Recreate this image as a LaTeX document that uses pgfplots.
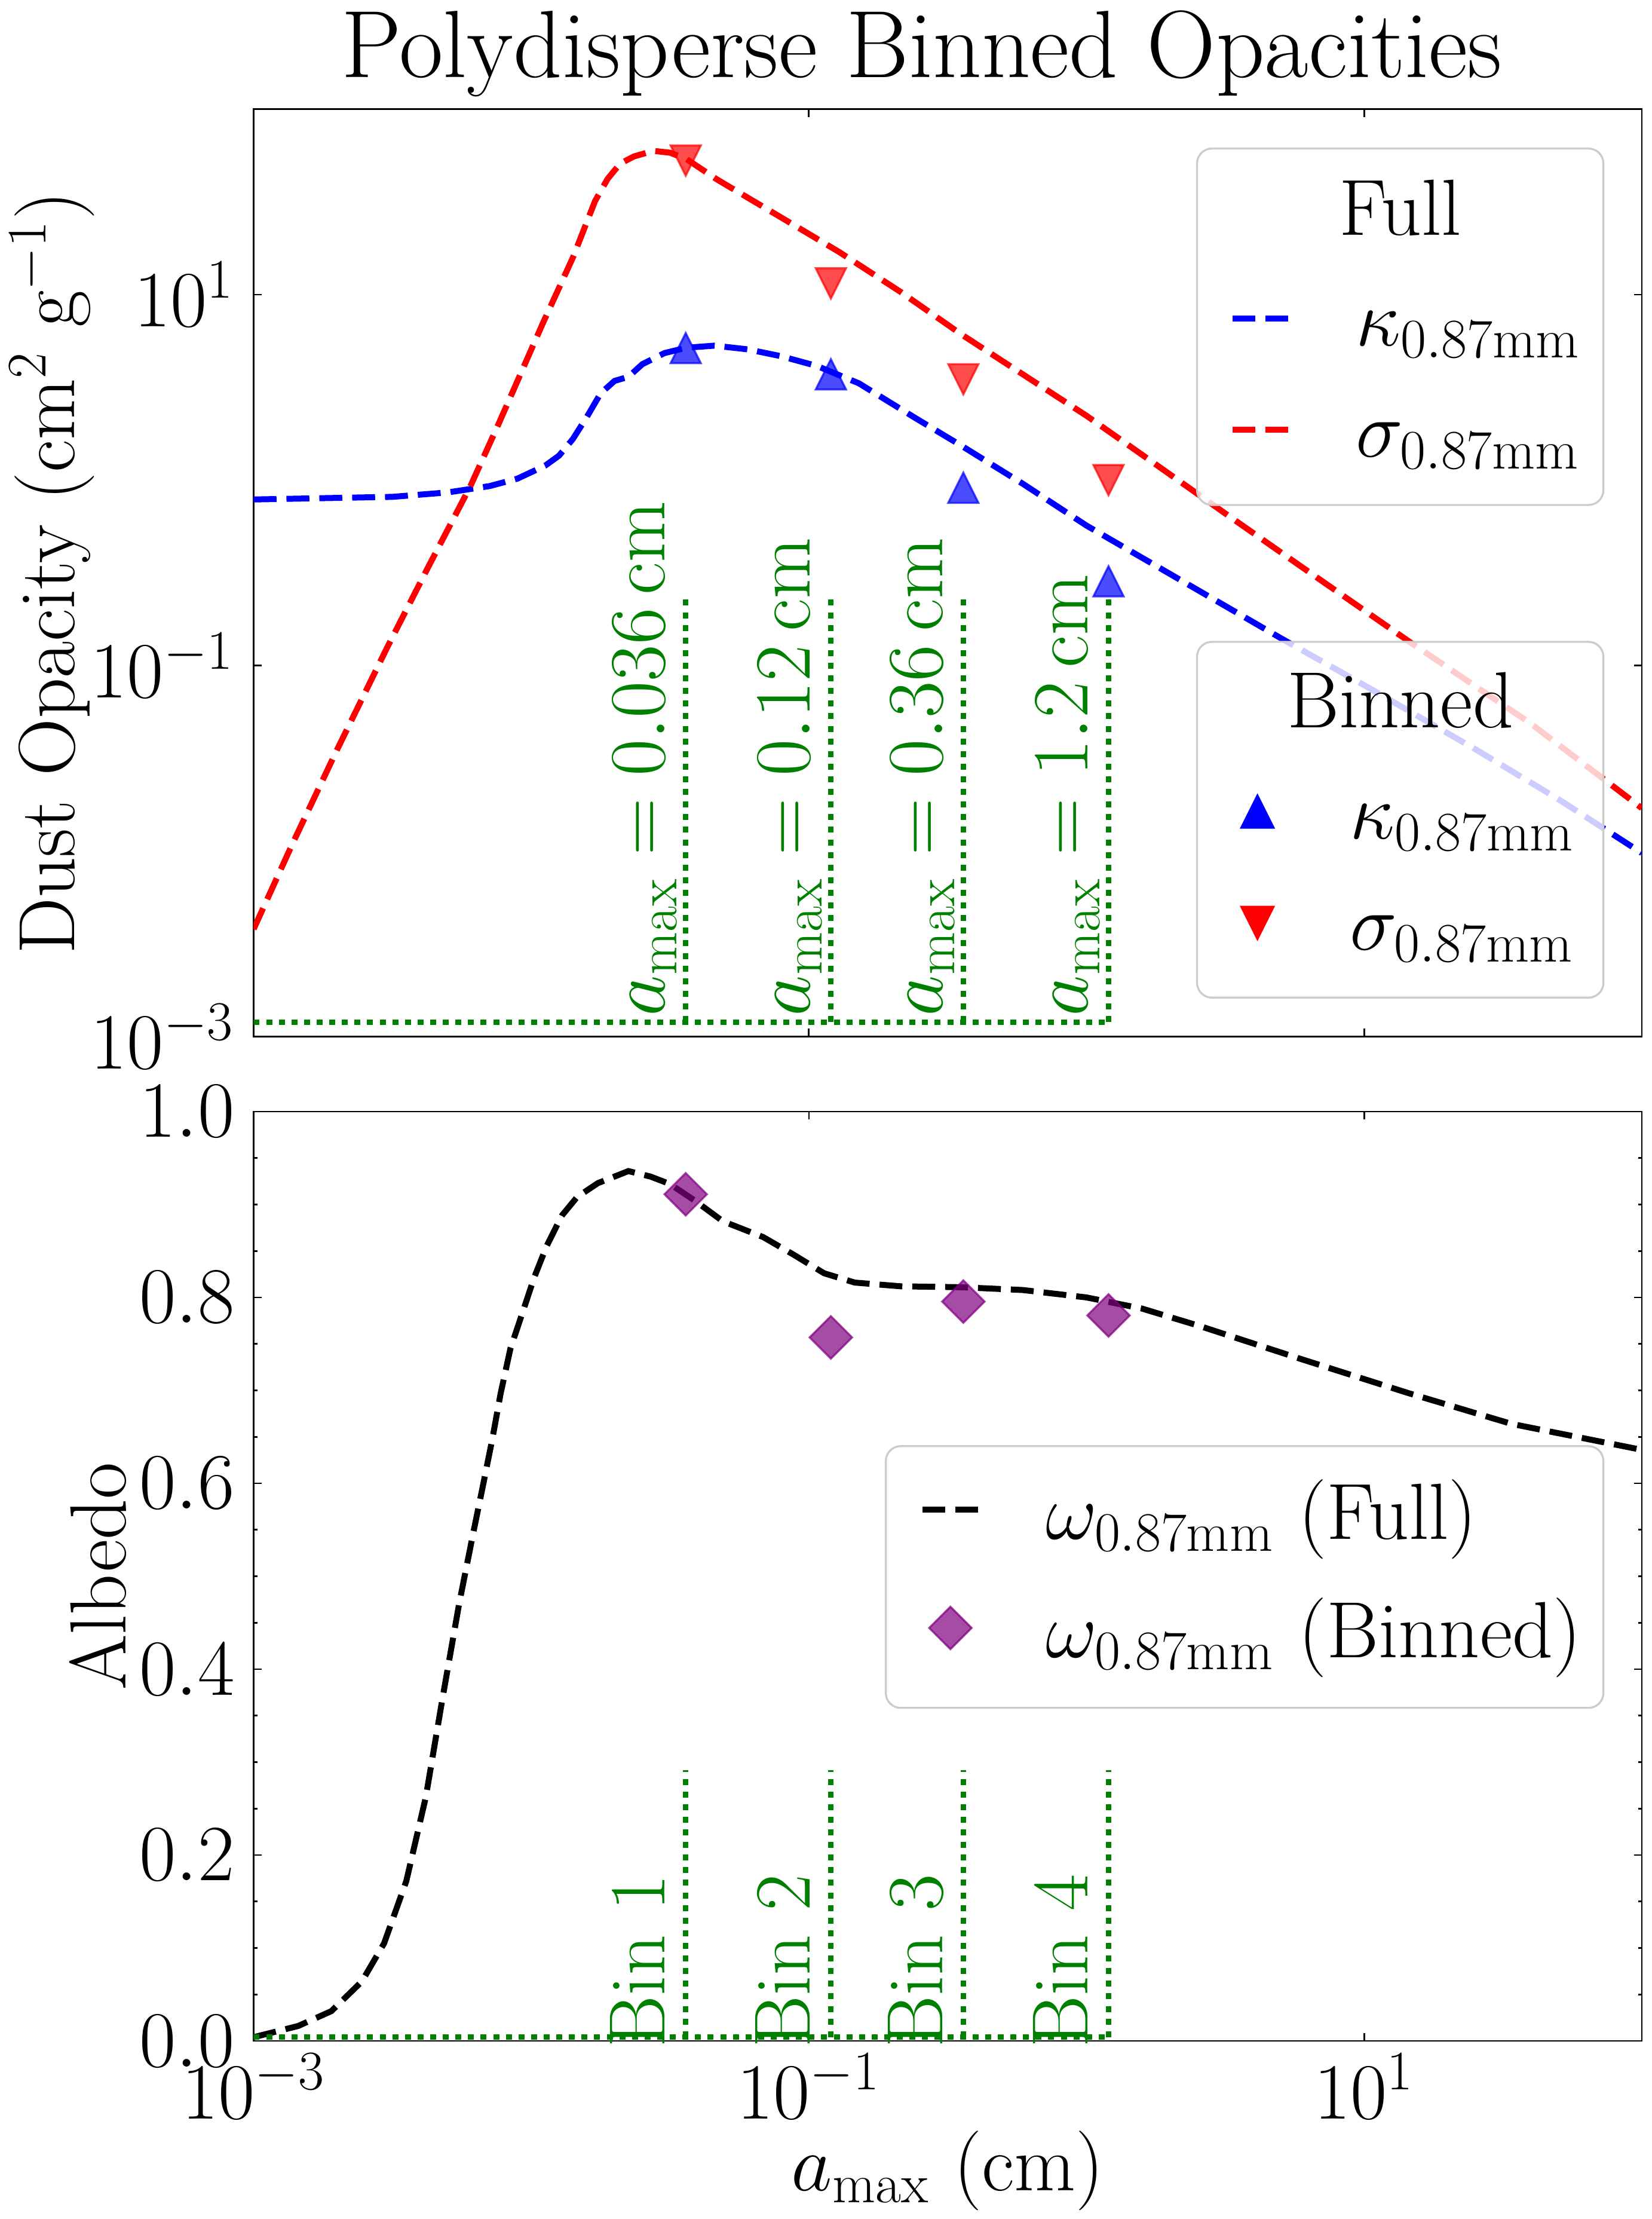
\RequirePackage{fix-cm}
\documentclass[border=0pt]{standalone}
\usepackage{pgfplots}
\pgfplotsset{compat=1.18}

% upright math (digits, \mathrm) from Latin Modern, with its optical sizes
\DeclareSymbolFont{operators}{TU}{lmr}{m}{n}

\definecolor{mplgreen}{RGB}{0,128,0}
\definecolor{mplpurple}{RGB}{128,0,128}
\definecolor{frameedge}{gray}{0.8}

\newcommand{\mplfont}{\fontsize{24bp}{28bp}\selectfont}
\newcommand{\titlefont}{\fontsize{28.8bp}{34bp}\selectfont}

% triangles as wide as they are tall, centred at mid-height
\pgfdeclareplotmark{mtriup}{%
  \pgfpathmoveto{\pgfqpoint{0pt}{\pgfplotmarksize}}%
  \pgfpathlineto{\pgfqpoint{-\pgfplotmarksize}{-\pgfplotmarksize}}%
  \pgfpathlineto{\pgfqpoint{\pgfplotmarksize}{-\pgfplotmarksize}}%
  \pgfpathclose\pgfusepathqfillstroke}
\pgfdeclareplotmark{mtridown}{%
  \pgfpathmoveto{\pgfqpoint{0pt}{-\pgfplotmarksize}}%
  \pgfpathlineto{\pgfqpoint{-\pgfplotmarksize}{\pgfplotmarksize}}%
  \pgfpathlineto{\pgfqpoint{\pgfplotmarksize}{\pgfplotmarksize}}%
  \pgfpathclose\pgfusepathqfillstroke}
% square diamond
\pgfdeclareplotmark{mdiamond}{%
  \pgfpathmoveto{\pgfqpoint{0pt}{\pgfplotmarksize}}%
  \pgfpathlineto{\pgfqpoint{\pgfplotmarksize}{0pt}}%
  \pgfpathlineto{\pgfqpoint{0pt}{-\pgfplotmarksize}}%
  \pgfpathlineto{\pgfqpoint{-\pgfplotmarksize}{0pt}}%
  \pgfpathclose\pgfusepathqfillstroke}

\tikzset{
  legendbox/.style={draw=frameedge, line width=0.6bp, fill=white, fill opacity=0.8, rounded corners=4.5bp},
  binlabel/.style={rotate=90, anchor=base west, inner sep=0pt, text=mplgreen, font=\mplfont},
}

\pgfplotsset{
  every axis/.append style={
    scale only axis, width=418.23bp,
    xmode=log, xmin=1e-3, xmax=1e2,
    xtick={1e-3,1e-1,1e1}, xminorticks=false,
    tick align=inside,
    major tick length=2.4bp, minor tick length=1.1bp,
    tick style={black, line width=0.5bp},
    axis line style={line width=0.5bp},
    tick label style={font=\mplfont},
    xticklabel style={inner sep=0pt, anchor=north, yshift=-3.4bp},
    yticklabel style={inner sep=0pt, anchor=east, xshift=-5.6bp},
    clip mode=individual,
    legend cell align=left,
  },
  fullline/.style={line width=1.8bp, dash pattern=on 6.9bp off 3.0bp},
  binline/.style={mplgreen, line width=1.65bp, dash pattern=on 1.8bp off 2.0bp, forget plot},
  linelegend/.style={legend image code/.code={\draw[##1] (0bp,0bp) -- (16.8bp,0bp);}},
  marklegend/.style={legend image code/.code={\path[draw=none, fill=none] (0bp,0bp) -- (16.8bp,0bp); \draw[##1] plot coordinates {(8.4bp,0bp)};}},
}

\begin{document}
\begin{tikzpicture}
\useasboundingbox (-76.41bp,-53.64bp) rectangle (421.11bp,614.70bp);

% ---------------- opacities, full size distribution ----------------
\begin{axis}[
  at={(0,302.45bp)}, anchor=south west, height=279.38bp,
  ymode=log, ymin=1e-3, ymax=1e2,
  ytick={1e-3,1e-1,1e1}, yminorticks=false,
  xticklabels={,,},
  ylabel={Dust Opacity (cm$^2$ g$^{-1}$)},
  every axis y label/.style={at={(axis description cs:-0.1289,0.5)}, rotate=90, anchor=base, font=\mplfont},
  title={Polydisperse Binned Opacities},
  every axis title/.style={at={(axis description cs:0.4814,1.0345)}, anchor=base, inner sep=0pt, font=\titlefont},
  legend style={at={(rel axis cs:0.7030,0.8237)}, anchor=north west, draw=none, fill=none,
    inner sep=0pt, outer sep=0pt, font=\mplfont, row sep=6bp, column sep=19.5bp,
    nodes={inner sep=0pt, text height=22bp, text depth=5.5bp}},
]
\addplot[blue, fullline, linelegend] coordinates {
  (0.001,0.7870) (0.0031623,0.8128) (0.0050119,0.8590) (0.0070795,0.9290)
  (0.0089125,1.0186) (0.011220,1.1967) (0.012589,1.3552) (0.014125,1.6672)
  (0.015849,2.1878) (0.017783,2.9376) (0.019953,3.4277) (0.022387,3.6058)
  (0.025119,4.2170) (0.030200,4.8417) (0.036308,5.1761) (0.045709,5.3088)
  (0.060256,5.0699) (0.079433,4.6559) (0.10715,4.1210) (0.15136,3.3266)
  (0.23988,2.1777) (0.35481,1.5311) (0.58884,0.9572) (1.0,0.5689)
  (1.9953,0.3126) (5.0119,0.1406) (10.0,0.07852) (25.119,0.03548)
  (50.119,0.01905) (100.0,0.009772)
};
\addlegendentry{$\kappa_{0.87\mathrm{mm}}$}
\addplot[red, fullline, linelegend] coordinates {
  (0.001,0.0038019) (0.0013804,0.010965) (0.0019953,0.035075) (0.0030200,0.12445)
  (0.0042658,0.34277) (0.0060256,0.92257) (0.0075858,1.9724) (0.010965,6.9183)
  (0.014125,15.849) (0.016982,31.989) (0.018836,42.073) (0.020893,50.816)
  (0.023442,55.590) (0.027542,59.566) (0.031623,58.210) (0.036308,53.703)
  (0.046774,41.687) (0.077625,26.607) (0.12882,16.943) (0.21380,10.351)
  (0.35481,6.0954) (0.58884,3.7239) (1.0,2.2233) (1.5849,1.3709)
  (3.1623,0.66069) (6.0256,0.33651) (14.454,0.13552) (39.811,0.048753)
  (100.0,0.017061)
};
\addlegendentry{$\sigma_{0.87\mathrm{mm}}$}

% bin edges
\addplot[binline] coordinates {(0.001,0.0012) (1.2,0.0012)};
\addplot[binline] coordinates {(0.036,0.0012) (0.036,0.2377)};
\addplot[binline] coordinates {(0.12,0.0012) (0.12,0.2377)};
\addplot[binline] coordinates {(0.36,0.0012) (0.36,0.2377)};
\addplot[binline] coordinates {(1.2,0.0012) (1.2,0.2377)};
\node[binlabel] at (axis cs:0.0303,0.00128) {$a_{\mathrm{max}} = 0.036\,\mathrm{cm}$};
\node[binlabel] at (axis cs:0.1009,0.00128) {$a_{\mathrm{max}} = 0.12\,\mathrm{cm}$};
\node[binlabel] at (axis cs:0.3028,0.00128) {$a_{\mathrm{max}} = 0.36\,\mathrm{cm}$};
\node[binlabel] at (axis cs:1.009,0.00128) {$a_{\mathrm{max}} = 1.2\,\mathrm{cm}$};

\draw[legendbox] (rel axis cs:0.6796,0.5732) rectangle (rel axis cs:0.9723,0.9575);
\node[anchor=base, inner sep=0pt, font=\mplfont] at (rel axis cs:0.8260,0.8639) {Full};
\end{axis}

% ---------------- opacities, binned ----------------
\begin{axis}[
  at={(0,302.45bp)}, anchor=south west, height=279.38bp,
  ymode=log, ymin=1e-3, ymax=1e2, hide axis,
  legend style={at={(rel axis cs:0.7030,0.2919)}, anchor=north west, draw=none, fill=none,
    inner sep=0pt, outer sep=0pt, font=\mplfont, row sep=6bp, column sep=19.5bp,
    nodes={inner sep=0pt, text height=22bp, text depth=5.5bp}},
]
\addplot[only marks, mark=mtriup, mark size=4.55bp,
  mark options={draw=blue, fill=blue, line width=0.6bp, opacity=0.7}, forget plot]
  coordinates {(0.036,5.15) (0.12,3.72) (0.36,0.91) (1.2,0.285)};
\addplot[only marks, mark=mtridown, mark size=4.55bp,
  mark options={draw=red, fill=red, line width=0.6bp, opacity=0.7}, forget plot]
  coordinates {(0.036,52.8) (0.12,11.5) (0.36,3.50) (1.2,1.00)};

\draw[legendbox] (rel axis cs:0.6796,0.0421) rectangle (rel axis cs:0.9723,0.4257);
\node[anchor=base, inner sep=0pt, font=\mplfont] at (rel axis cs:0.8260,0.3330) {Binned};

\addlegendimage{only marks, mark=mtriup, mark size=4.85bp, mark options={draw=blue, fill=blue, line width=0.6bp}, marklegend}
\addlegendentry{$\kappa_{0.87\mathrm{mm}}$}
\addlegendimage{only marks, mark=mtridown, mark size=4.85bp, mark options={draw=red, fill=red, line width=0.6bp}, marklegend}
\addlegendentry{$\sigma_{0.87\mathrm{mm}}$}
\end{axis}

% ---------------- albedo ----------------
\begin{axis}[
  at={(0,0)}, anchor=south west, height=279.9bp,
  ymin=0, ymax=1, ytick={0,0.2,0.4,0.6,0.8,1.0}, minor y tick num=3,
  yticklabel style={/pgf/number format/.cd, fixed, fixed zerofill, precision=1},
  xlabel={$a_{\mathrm{max}}$ (cm)},
  every axis x label/.style={at={(axis description cs:0.5,-0.1608)}, anchor=base, font=\mplfont},
  ylabel={Albedo},
  every axis y label/.style={at={(axis description cs:-0.0923,0.5)}, rotate=90, anchor=base, font=\mplfont},
  legend style={at={(rel axis cs:0.4797,0.6253)}, anchor=north west, draw=none, fill=none,
    inner sep=0pt, outer sep=0pt, font=\mplfont, row sep=5.64bp, column sep=19.5bp,
    nodes={inner sep=0pt, text height=24bp, text depth=6bp}},
]
\addplot[black, fullline, linelegend] coordinates {
  (0.001,0.004) (0.0014454,0.016) (0.0019055,0.032) (0.0024547,0.064)
  (0.0029512,0.105) (0.0035481,0.172) (0.0041687,0.262) (0.0047863,0.368)
  (0.0054954,0.470) (0.0061660,0.545) (0.0066834,0.596) (0.0072444,0.648)
  (0.0077625,0.697) (0.0084140,0.745) (0.0093325,0.785) (0.010233,0.821)
  (0.011350,0.855) (0.012882,0.888) (0.014622,0.908) (0.017378,0.923)
  (0.022387,0.936) (0.026915,0.930) (0.031623,0.922) (0.038905,0.904)
  (0.048978,0.882) (0.068391,0.865) (0.088105,0.846) (0.11350,0.826)
  (0.14622,0.816) (0.21380,0.812) (0.35481,0.811) (0.58884,0.808)
  (1.0,0.800) (1.5849,0.788) (2.5704,0.769) (6.0256,0.733)
  (14.454,0.697) (33.884,0.664) (100.0,0.636)
};
\addlegendentry{$\omega_{0.87\mathrm{mm}}$ (Full)}

% bin edges
\addplot[binline] coordinates {(0.001,0.004) (1.2,0.004)};
\addplot[binline] coordinates {(0.036,0.004) (0.036,0.291)};
\addplot[binline] coordinates {(0.12,0.004) (0.12,0.291)};
\addplot[binline] coordinates {(0.36,0.004) (0.36,0.291)};
\addplot[binline] coordinates {(1.2,0.004) (1.2,0.291)};
\node[binlabel] at (axis cs:0.0303,-0.008) {Bin 1};
\node[binlabel] at (axis cs:0.1009,-0.008) {Bin 2};
\node[binlabel] at (axis cs:0.3028,-0.008) {Bin 3};
\node[binlabel] at (axis cs:1.009,-0.008) {Bin 4};

\addplot[only marks, mark=mdiamond, mark size=6.4bp,
  mark options={draw=mplpurple, fill=mplpurple, line width=0.6bp, opacity=0.7}, marklegend]
  coordinates {(0.036,0.911) (0.12,0.757) (0.36,0.7956) (1.2,0.7806)};
\addlegendentry{$\omega_{0.87\mathrm{mm}}$ (Binned)}

\draw[legendbox] (rel axis cs:0.4554,0.3583) rectangle (rel axis cs:0.9723,0.6400);
\end{axis}
\end{tikzpicture}
\end{document}
